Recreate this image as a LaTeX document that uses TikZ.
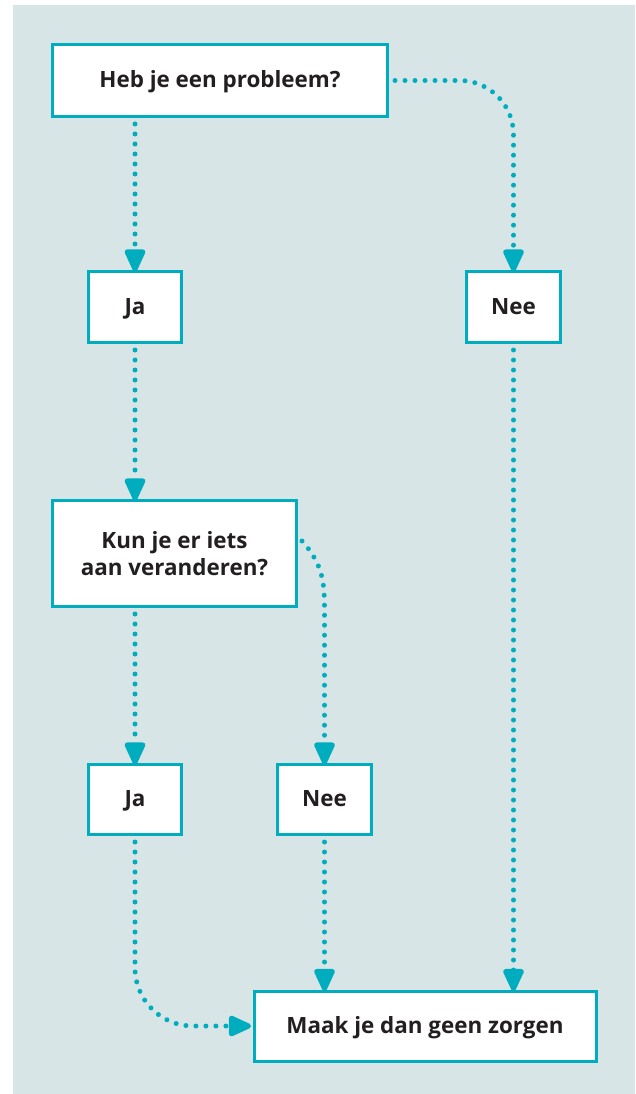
\documentclass[tikz,border=0pt]{standalone}
\usepackage{fontspec}
\setmainfont{Open Sans}
\usetikzlibrary{arrows.meta}
\definecolor{bg}{HTML}{D8E5E6}
\definecolor{cy}{HTML}{00ADBF}
\definecolor{tx}{HTML}{231F20}
\tikzset{
  box/.style={draw=cy, line width=3pt, fill=white, inner sep=0pt, align=center,
    text=tx, font=\fontsize{22.4}{27}\selectfont\bfseries},
  oneline/.style={text height=14.5pt, text depth=0pt},
  conn/.style={draw=cy, line width=5pt, line cap=round, dash pattern=on 0pt off 10pt,
    -{Triangle[width=22pt,length=26pt,round=false]}},
}
\begin{document}
\begin{tikzpicture}[x=1pt,y=-1pt]
\useasboundingbox (0,0) rectangle (635,1094);
\fill[bg] (13,5) rectangle (635,1094);
\node[box, oneline, minimum width=335pt, minimum height=72pt] (q1) at (220,80.5) {Heb je een probleem?};
\node[box, oneline, minimum width=93pt, minimum height=71pt] (ja1) at (135,307) {Ja};
\node[box, oneline, minimum width=94pt, minimum height=71pt] (nee1) at (513.5,307) {Nee};
\node[box, minimum width=244pt, minimum height=106pt] (q2) at (174.5,553.5) {Kun je er iets\\aan veranderen?};
\node[box, oneline, minimum width=93pt, minimum height=70pt] (ja2) at (135,799.5) {Ja};
\node[box, oneline, minimum width=94pt, minimum height=70pt] (nee2) at (324.5,799.5) {Nee};
\node[box, oneline, minimum width=342pt, minimum height=70pt] (end) at (425,1026) {Maak je dan geen zorgen};
\coordinate (c1) at (513.5,80.5);
\coordinate (c6) at (135,1026);
\draw[conn, rounded corners=54pt] ([xshift=6pt]q1.east) -- (c1) -- ([yshift=-1.5pt]nee1.north);
\draw[conn] ([yshift=-6pt]q1.south -| ja1.north) -- ([yshift=-1.5pt]ja1.north);
\draw[conn] ([yshift=-6pt]ja1.south) -- ([yshift=-1.5pt]q2.north -| ja1.south);
\draw[conn] ([xshift=4pt,yshift=12.5pt]q2.east) .. controls (324.5,566) and (324.5,585) .. (324.5,615) -- ([yshift=-1.5pt]nee2.north);
\draw[conn] ([yshift=-6pt]q2.south -| ja2.north) -- ([yshift=-1.5pt]ja2.north);
\draw[conn, rounded corners=58pt] ([yshift=-6pt]ja2.south) -- (c6) -- ([xshift=-1.5pt]end.west);
\draw[conn] ([yshift=-6pt]nee2.south) -- ([yshift=-1.5pt]end.north -| nee2.south);
\draw[conn] ([yshift=-6pt]nee1.south) -- ([yshift=-1.5pt]end.north -| nee1.south);
\end{tikzpicture}
\end{document}
